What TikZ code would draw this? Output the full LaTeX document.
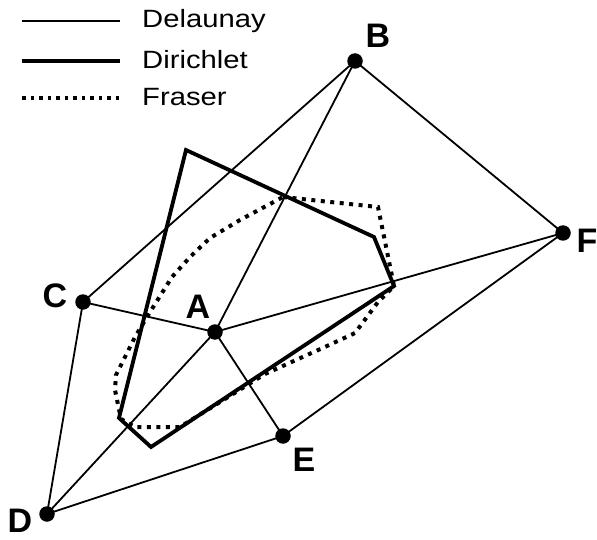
\documentclass[tikz,border=0pt]{standalone}
\usepackage{fontspec}
\setmainfont{Liberation Sans}
\begin{document}
\begin{tikzpicture}[x=1pt,y=1pt,
  delaunay/.style={line width=1.8pt},
  dirichlet/.style={line width=3.8pt,line join=miter},
  fraser/.style={line width=4pt,dash pattern=on 4pt off 5.5pt},
  site/.style={circle,fill=black,inner sep=0pt,minimum size=15.5pt},
  lab/.style={font=\fontsize{34}{34}\selectfont\bfseries,inner sep=0pt},
  leg/.style={font=\fontsize{25}{25}\selectfont,inner sep=0pt,anchor=west}]
\useasboundingbox (0,0) rectangle (597,-540);
% sites
\coordinate (B) at (355,-61);
\coordinate (F) at (563,-233);
\coordinate (C) at (83,-302);
\coordinate (A) at (215,-332);
\coordinate (E) at (283,-436);
\coordinate (D) at (47,-514);
% Delaunay edges
\draw[delaunay] (B) -- (C);
\draw[delaunay] (B) -- (A);
\draw[delaunay] (B) -- (F);
\draw[delaunay] (C) -- (A);
\draw[delaunay] (A) -- (F);
\draw[delaunay] (A) -- (E);
\draw[delaunay] (C) -- (D);
\draw[delaunay] (D) -- (A);
\draw[delaunay] (D) -- (E);
\draw[delaunay] (E) -- (F);
% Dirichlet polygon
\draw[dirichlet] (186,-150) -- (374,-237) -- (394,-286) -- (151,-447) -- (119,-418) -- cycle;
% Fraser polygon
\draw[fraser] (283,-197) -- (378,-207) -- (394,-286) -- (378,-302) -- (355,-333) -- (327,-346)
  -- (265,-374) -- (180,-427) -- (135,-427) -- (121,-419) -- (115,-390) -- (116,-375)
  -- (135,-337) -- (150,-312) -- (172,-277) -- (190,-257) -- (210,-238) -- (240,-220) -- cycle;
% site dots
\foreach \p in {A,B,C,D,E,F} \node[site] (n\p) at (\p) {};
% labels
\node[lab] (lB) at (378,-36) {B};
\node[lab] (lF) at (587,-241) {F};
\node[lab] (lC) at (55,-296) {C};
\node[lab] (lA) at (198,-307) {A};
\node[lab] (lE) at (304,-460) {E};
\node[lab] (lD) at (20,-521) {D};
% legend
\coordinate (l1a) at (22,-21); \coordinate (l1b) at (120,-21);
\coordinate (l2a) at (22,-61); \coordinate (l2b) at (120,-61);
\coordinate (l3a) at (22,-98); \coordinate (l3b) at (120,-98);
\draw[delaunay] (l1a) -- (l1b);
\draw[dirichlet] (l2a) -- (l2b);
\draw[fraser,dash pattern=on 3.5pt off 5pt] (l3a) -- (l3b);
\node[leg] (t1) at (142,-21) {\scalebox{1.17}[1]{Delaunay}};
\node[leg] (t2) at (142,-60) {\scalebox{1.17}[1]{Dirichlet}};
\node[leg] (t3) at (142,-97) {\scalebox{1.17}[1]{Fraser}};
\end{tikzpicture}
\end{document}
